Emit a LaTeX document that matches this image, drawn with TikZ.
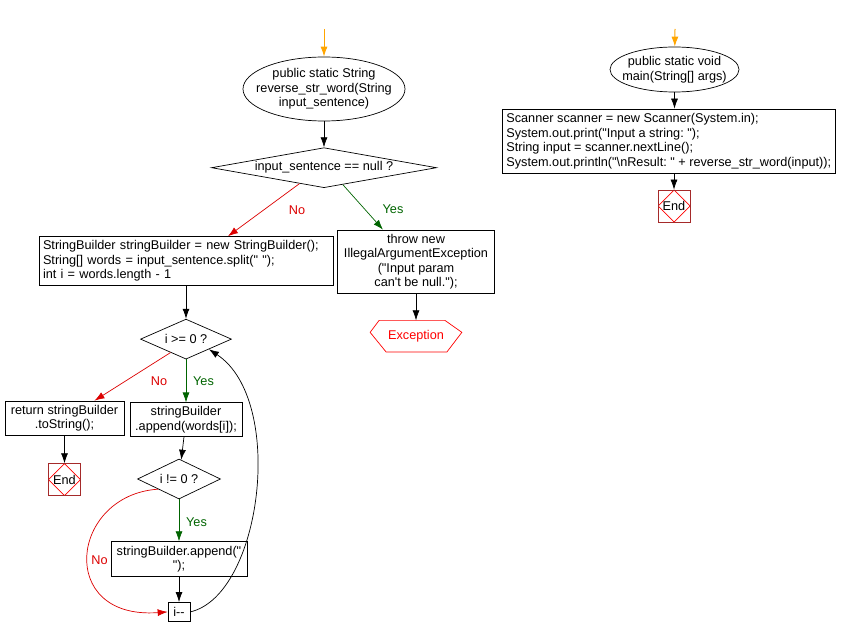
\documentclass[tikz,border=0pt]{standalone}
\usepackage{fontspec}
\setmainfont{Liberation Sans}[Ligatures=TeXOff]
\usetikzlibrary{positioning,shapes.geometric,arrows.meta}
\definecolor{nored}{RGB}{220,0,0}
\definecolor{yesgreen}{RGB}{0,100,0}
\definecolor{startorange}{RGB}{255,165,0}
\definecolor{endred}{RGB}{165,42,42}

\begin{document}
\begin{tikzpicture}[x=1pt,y=-1pt,line width=0.7pt,
	font=\fontsize{12.7}{14.5}\selectfont\frenchspacing,
	startnode/.style={ellipse,draw,inner sep=-12pt,align=center},
	box/.style={draw,align=center,inner sep=0pt},
	codebox/.style={draw,align=left,inner sep=4pt},
	decision/.style={diamond,draw,inner sep=0pt,minimum height=40pt},
	endnode/.style={draw=endred,minimum size=32pt,inner sep=0pt,path picture={\draw[red] (path picture bounding box.north) -- (path picture bounding box.east) -- (path picture bounding box.south) -- (path picture bounding box.west) -- cycle;}},
	arr/.style={-{Latex[length=10pt,width=7pt]}},
	noarr/.style={arr,nored},
	yesarr/.style={arr,yesgreen},
	startarr/.style={arr,startorange,line width=1pt},
	nolbl/.style={text=nored},
	yeslbl/.style={text=yesgreen}]
	\useasboundingbox (0,0) rectangle (850,636);
	\coordinate (s1) at (324,29);
	\node[startnode,minimum width=162pt,minimum height=64pt] (m1) at (324,89) {public static String\\reverse\_str\_word(String\\input\_sentence)};
	\node[decision,aspect=5.6,minimum width=225pt,below=26pt of m1] (d1) {input\_sentence == null ?};
	\node[codebox,text width=286pt,minimum height=48pt] (b1) at (186,261) {StringBuilder stringBuilder = new StringBuilder();\\String[] words = input\_sentence.split(" ");\\int i = words.length - 1};
	\node[box,minimum width=157pt,minimum height=63pt] (t1) at (416,261.5) {throw new\\IllegalArgumentException\\("Input param\\can't be null.");};
	\node[minimum width=91pt,minimum height=31pt,inner sep=0pt,text=red,below=27pt of t1] (ex) {Exception};
	\draw[red] ([xshift=9pt]ex.north west) -- ([xshift=-17pt]ex.north east) -- ([yshift=-12pt]ex.north east) -- ([xshift=-15pt]ex.south east) -- ([xshift=16pt]ex.south west) -- ([yshift=-12pt]ex.north west) -- cycle;
	\node[decision,aspect=2.3,minimum width=91pt,below=33pt of b1] (d2) {i >= 0 ?};
	\node[box,minimum width=119pt,minimum height=34pt] (r1) at (64.5,418) {return stringBuilder\\.toString();};
	\node[box,minimum width=112pt,minimum height=34pt,below=43pt of d2] (a1) {stringBuilder\\.append(words[i]);};
	\node[endnode,below=28pt of r1] (e1) {End};
	\node[decision,aspect=2.1,minimum width=83pt] (d3) at (179,479) {i != 0 ?};
	\node[box,minimum width=136pt,minimum height=35pt,below=42pt of d3] (a2) {stringBuilder.append("\\");};
	\node[box,minimum width=22pt,minimum height=19pt,below=25pt of a2] (dec) {i--};
	\coordinate (s2) at (675,29);
	\node[startnode,minimum width=129pt,minimum height=45pt] (m2) at (674.5,69.5) {public static void\\main(String[] args)};
	\node[codebox,minimum height=64pt,anchor=west] (b2) at (502,141) {Scanner scanner = new Scanner(System.in);\\System.out.print("Input a string: ");\\String input = scanner.nextLine();\\System.out.println("\textbackslash nResult: " + reverse\_str\_word(input));};
	\node[endnode] (e2) at (674,206) {End};
	\node[nolbl] (n1) at (297,210) {No};
	\node[yeslbl] (y1) at (393,209) {Yes};
	\node[nolbl] (n2) at (159,381) {No};
	\node[yeslbl] (y2) at (203.5,381) {Yes};
	\node[yeslbl] (y3) at (196.5,522) {Yes};
	\node[nolbl] (n3) at (99.5,560) {No};
	\draw[startarr] (s1) -- (m1);
	\draw[arr] (m1) -- (d1);
	\draw[noarr] (d1.213) -- ([xshift=42pt]b1.north);
	\draw[yesarr] (d1.318) -- ([xshift=-33pt]t1.north);
	\draw[arr] (t1) -- (ex);
	\draw[arr] (b1) -- (d2);
	\draw[noarr] (d2.221) -- ([xshift=30pt]r1.north);
	\draw[yesarr] (d2) -- (a1);
	\draw[arr] (r1) -- (e1);
	\draw[arr] (a1) -- (d3);
	\draw[yesarr] (d3) -- (a2);
	\draw[arr] (a2) -- (dec);
	\draw[noarr] (d3.south west) .. controls (70,495) and (56,620) .. (dec.west);
	\draw[arr] (dec.east) .. controls (262,595) and (286,400) .. (d2.south east);
	\draw[startarr] (s2) -- (m2);
	\draw[arr] (m2) -- (m2 |- b2.north);
	\draw[arr] (e2 |- b2.south) -- (e2);
\end{tikzpicture}
\end{document}
